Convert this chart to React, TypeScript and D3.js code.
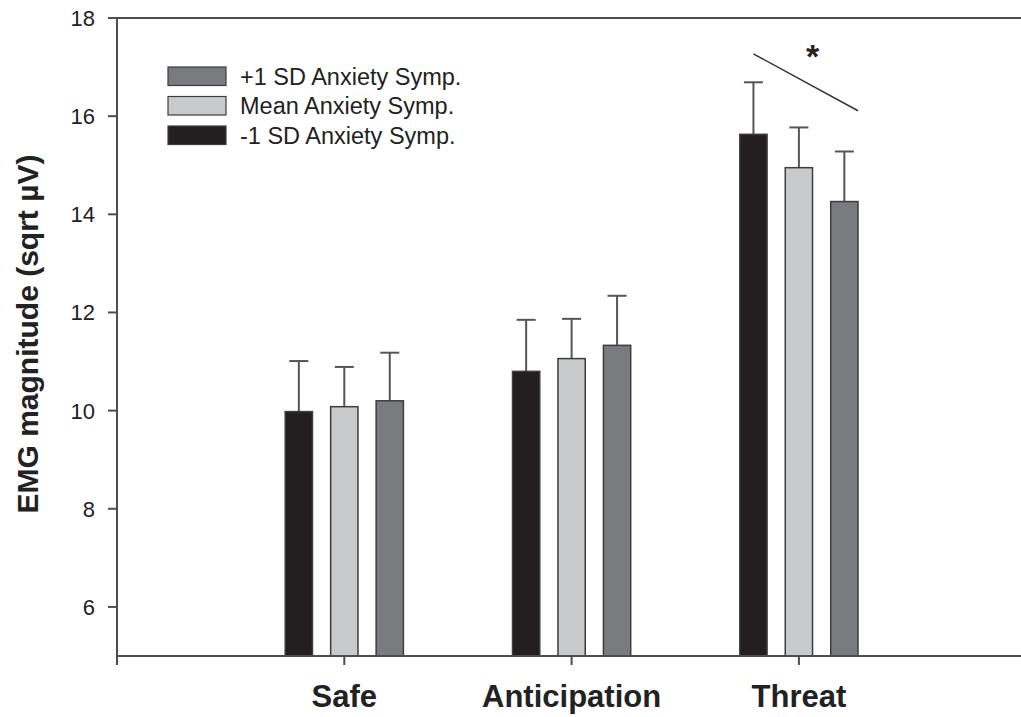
import * as d3 from "d3";

const categories = ["Safe", "Anticipation", "Threat"];
const seriesNames = ["-1 SD Anxiety Symp.", "Mean Anxiety Symp.", "+1 SD Anxiety Symp."];
const lowValues = [9.98, 10.8, 15.63];
const meanValues = [10.08, 11.06, 14.95];
const highValues = [10.2, 11.33, 14.26];
const lowErr = [1.03, 1.05, 1.06];
const meanErr = [0.81, 0.81, 0.82];
const highErr = [0.98, 1.01, 1.02];
const yTicks = [6, 8, 10, 12, 14, 16, 18];
const legendOrder = [2, 1, 0];

const COLORS = ["#231f20", "#c9cacc", "#7a7b7f"];
const AXIS = "#4d4d4d";
const FONT = "Arial, 'Liberation Sans', Helvetica, sans-serif";
const NARROW = "'Liberation Sans Narrow', 'Arial Narrow', Arial, sans-serif";

const W = 1021;
const H = 717;

export default function App() {
  const x = d3.scaleLinear().domain([0, 4]).range([117, 117 + 4 * 227.3]);
  const y = d3.scaleLinear().domain([5, 18]).range([656, 18]);
  const offsets = [-0.2, 0, 0.2];
  const barW = 0.12;
  const values = [lowValues, meanValues, highValues];
  const errs = [lowErr, meanErr, highErr];

  const bw = x(barW) - x(0);
  const capHalf = 9.5;

  // significance line over Threat group
  const sigX1 = x(3 + offsets[0]);
  const sigX2 = x(3 + offsets[2] + barW / 2);

  return (
    <svg
      width={W}
      height={H}
      style={{ position: "absolute", left: 0, top: 0, background: "#fff" }}
    >
      {/* bars */}
      {values.map((vals, s) =>
        vals.map((v, i) => {
          const cx = x(i + 1 + offsets[s]);
          return (
            <g key={`b-${s}-${i}`}>
              <line
                x1={cx}
                x2={cx}
                y1={y(v)}
                y2={y(v + errs[s][i])}
                stroke="#555"
                strokeWidth={2}
              />
              <line
                x1={cx - capHalf}
                x2={cx + capHalf}
                y1={y(v + errs[s][i])}
                y2={y(v + errs[s][i])}
                stroke="#555"
                strokeWidth={2}
              />
              <rect
                x={cx - bw / 2}
                y={y(v)}
                width={bw}
                height={y(5) - y(v)}
                fill={COLORS[s]}
                stroke="#3d3d3d"
                strokeWidth={1.5}
              />
            </g>
          );
        })
      )}

      {/* frame: top line, left axis, bottom axis */}
      <line x1={117} x2={W} y1={y(18)} y2={y(18)} stroke={AXIS} strokeWidth={2} />
      <line x1={117} x2={W} y1={y(5)} y2={y(5)} stroke={AXIS} strokeWidth={2} />
      <line x1={117} x2={117} y1={y(18)} y2={y(5) + 9} stroke={AXIS} strokeWidth={2} />

      {/* y ticks */}
      {yTicks.map((t) => (
        <g key={`yt-${t}`}>
          <line x1={108} x2={117} y1={y(t)} y2={y(t)} stroke={AXIS} strokeWidth={2} />
          <text
            x={95}
            y={y(t)}
            dy="0.36em"
            textAnchor="end"
            fontFamily={FONT}
            fontSize={22}
            fill="#222"
          >
            {t}
          </text>
        </g>
      ))}

      {/* x ticks and labels */}
      {categories.map((c, i) => (
        <g key={`xt-${c}`}>
          <line
            x1={x(i + 1)}
            x2={x(i + 1)}
            y1={y(5)}
            y2={y(5) + 9}
            stroke={AXIS}
            strokeWidth={2}
          />
          <text
            x={x(i + 1)}
            y={707}
            textAnchor="middle"
            fontFamily={NARROW}
            fontWeight="bold"
            fontSize={31}
            fill="#222"
          >
            {c}
          </text>
        </g>
      ))}

      {/* y title */}
      <text
        transform="translate(38,334) rotate(-90)"
        textAnchor="middle"
        fontFamily={FONT}
        fontWeight="bold"
        fontSize={30}
        fill="#222"
      >
        EMG magnitude (sqrt µV)
      </text>

      {/* legend */}
      {legendOrder.map((s, r) => {
        const top = 67 + r * 29.5;
        return (
          <g key={`lg-${s}`}>
            <rect
              x={168}
              y={top}
              width={58}
              height={18.5}
              fill={COLORS[s]}
              stroke="#3d3d3d"
              strokeWidth={1.2}
            />
            <text
              x={240}
              y={top + 17.5}
              fontFamily={FONT}
              fontSize={23.5}
              fill="#222"
            >
              {seriesNames[s]}
            </text>
          </g>
        );
      })}

      {/* significance marker */}
      <line
        x1={sigX1}
        x2={sigX2}
        y1={y(17.27)}
        y2={y(16.11)}
        stroke="#333"
        strokeWidth={1.5}
      />
      <text
        x={(sigX1 + sigX2) / 2 + 7}
        y={68}
        textAnchor="middle"
        fontFamily={FONT}
        fontWeight="bold"
        fontSize={34}
        fill="#222"
      >
        *
      </text>
    </svg>
  );
}
